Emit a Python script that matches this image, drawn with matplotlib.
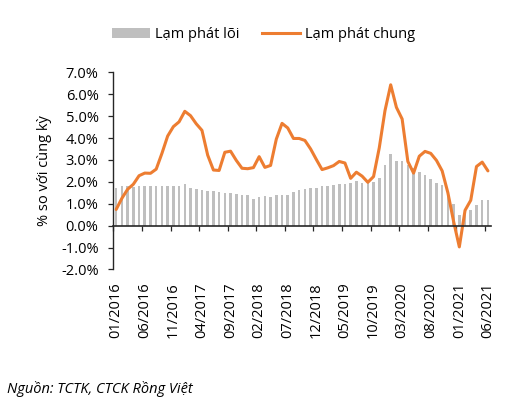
import numpy as np
import matplotlib
matplotlib.use("Agg")
import matplotlib.pyplot as plt
from matplotlib.patches import Patch
from matplotlib.lines import Line2D

plt.rcParams['font.family'] = ['Open Sans', 'DejaVu Sans']

# Monthly data, 01/2016 -> 06/2021 (% y/y)
core_inflation = [1.74, 1.83, 1.79, 1.77, 1.80, 1.82, 1.82, 1.82, 1.82, 1.83, 1.83, 1.83,
                  1.90, 1.70, 1.68, 1.64, 1.58, 1.56, 1.52, 1.50, 1.47, 1.45, 1.42, 1.42,
                  1.20, 1.32, 1.35, 1.33, 1.38, 1.38, 1.42, 1.55, 1.62, 1.68, 1.73, 1.70,
                  1.83, 1.83, 1.85, 1.89, 1.92, 1.97, 2.06, 1.97, 1.94, 2.00, 2.18, 2.78,
                  3.26, 2.96, 2.96, 2.76, 2.61, 2.45, 2.32, 2.15, 1.96, 1.87, 1.55, 0.99,
                  0.49, 0.60, 0.72, 0.96, 1.15, 1.15]
headline_inflation = [0.74, 1.25, 1.66, 1.89, 2.28, 2.40, 2.39, 2.58, 3.30, 4.09, 4.52, 4.74,
                      5.22, 5.02, 4.65, 4.35, 3.22, 2.54, 2.52, 3.35, 3.40, 2.98, 2.62, 2.60,
                      2.65, 3.15, 2.66, 2.75, 3.95, 4.67, 4.46, 3.98, 3.98, 3.89, 3.50, 3.02,
                      2.56, 2.64, 2.74, 2.93, 2.86, 2.16, 2.44, 2.26, 1.98, 2.24, 3.55, 5.25,
                      6.43, 5.40, 4.87, 2.93, 2.40, 3.17, 3.39, 3.30, 2.98, 2.50, 1.50, 0.19,
                      -0.97, 0.70, 1.16, 2.70, 2.90, 2.50]
tick_labels = ['01/2016', '06/2016', '11/2016', '04/2017', '09/2017', '02/2018', '07/2018',
               '12/2018', '05/2019', '10/2019', '03/2020', '08/2020', '01/2021', '06/2021']
y_ticks = [-2, -1, 0, 1, 2, 3, 4, 5, 6, 7]

GREY = '#bfbfbf'
ORANGE = '#ed7d31'
AXIS = '#262626'
FS = 10.5

fig = plt.figure(figsize=(5.21, 4.04), dpi=100)
ax = fig.add_axes([0.2175, 0.333, 0.7245, 0.488])

x = np.arange(len(core_inflation))
ax.bar(x, core_inflation, width=0.45, color=GREY, zorder=2)
ax.plot(x, headline_inflation, color=ORANGE, lw=2.2, solid_joinstyle='round',
        solid_capstyle='round', zorder=3)

ax.set_xlim(-0.5, len(x) - 0.5)
ax.set_ylim(-2, 7)
ax.set_yticks(y_ticks)
ax.set_yticklabels([f'{v:.1f}%' for v in y_ticks], fontsize=FS, color='black')
ax.tick_params(axis='y', direction='out', length=3.6, width=0.9, color=AXIS, pad=7)

# category axis sits at zero, tick marks between categories
for s in ['top', 'right']:
    ax.spines[s].set_visible(False)
ax.spines['left'].set_color(AXIS)
ax.spines['left'].set_linewidth(1.0)
ax.spines['bottom'].set_position(('data', 0))
ax.spines['bottom'].set_color(AXIS)
ax.spines['bottom'].set_linewidth(1.2)
ax.spines['bottom'].set_zorder(4)
ax.set_xticks(np.arange(-0.5, len(x) - 0.5, 5))
ax.set_xticklabels([])
ax.tick_params(axis='x', direction='out', length=3.6, width=0.9, color=AXIS)

# labels at the bottom of the plot
sec = ax.secondary_xaxis(0.0)
sec.set_xticks(np.arange(0, len(x), 5))
sec.set_xticklabels(tick_labels, rotation=90, fontsize=FS)
sec.tick_params(axis='x', length=0, pad=9)
sec.spines['bottom'].set_visible(False)

ax.set_ylabel('% so với cùng kỳ', fontsize=FS)
ax.yaxis.set_label_coords(-0.163, 0.5)

handles = [Patch(facecolor=GREY, edgecolor='none', label='Lạm phát lõi'),
           Line2D([], [], color=ORANGE, lw=2.2, label='Lạm phát chung')]
fig.legend(handles=handles, loc='center', bbox_to_anchor=(0.506, 0.915), ncol=2,
           frameon=False, fontsize=FS, handlelength=2.6, handletextpad=0.3,
           columnspacing=1.6)

fig.text(0.014, 0.038, 'Nguồn: TCTK, CTCK Rồng Việt', fontsize=FS, style='italic',
         va='center', ha='left')

fig.savefig('out.png', dpi=100)
